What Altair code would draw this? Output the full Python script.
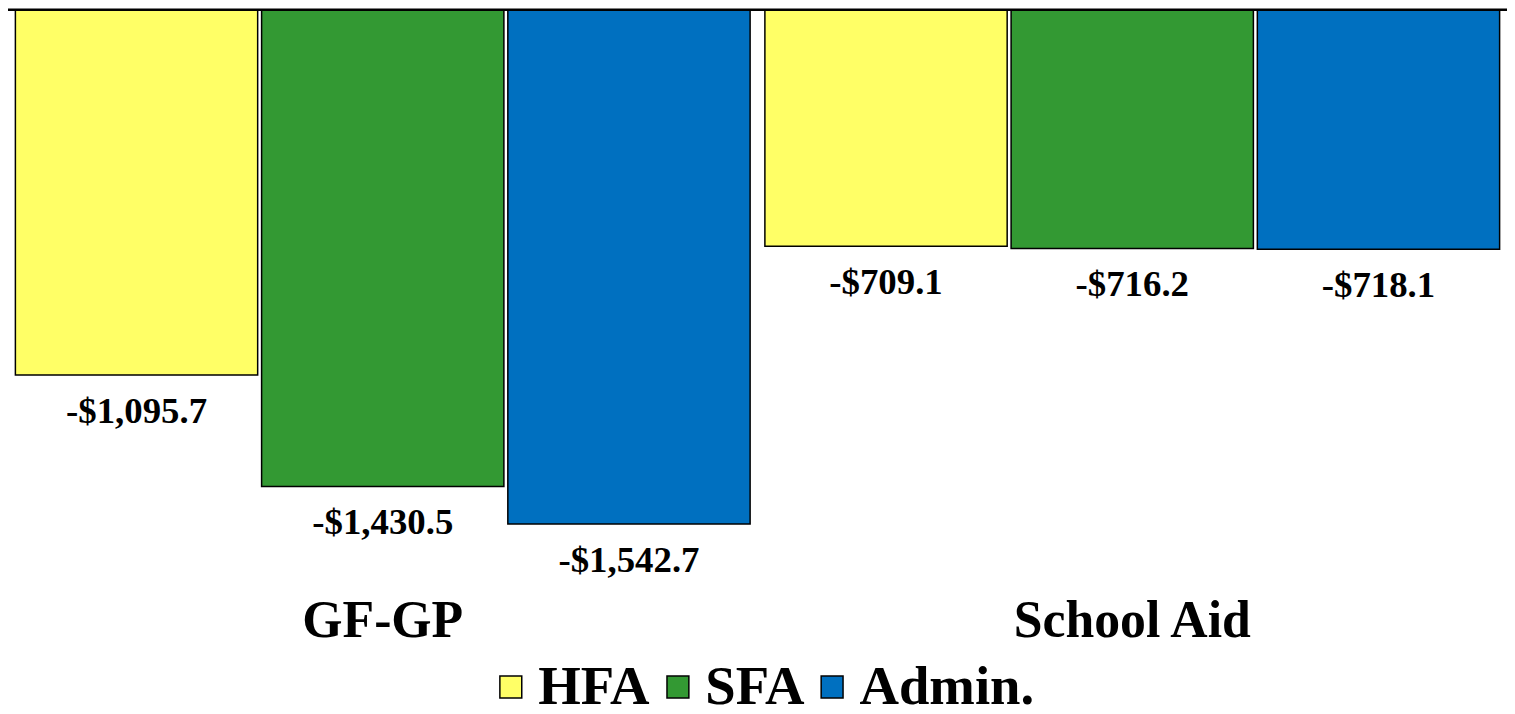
import altair as alt
import pandas as pd

categories = ["GF-GP", "School Aid"]
series = ["HFA", "SFA", "Admin."]
hfa = [-1095.7, -709.1]
sfa = [-1430.5, -716.2]
admin = [-1542.7, -718.1]
colors = ["#FFFF66", "#339933", "#0070C0"]

rows = []
for s, vals in zip(series, [hfa, sfa, admin]):
    for c, v in zip(categories, vals):
        rows.append({"group": c, "series": s, "value": v})
df = pd.DataFrame(rows)

FONT = "Liberation Serif"

x_enc = alt.X("group:N", sort=categories,
              scale=alt.Scale(paddingInner=0, paddingOuter=0),
              axis=alt.Axis(title=None, orient="bottom", domain=False, ticks=False,
                            labelFont=FONT, labelFontWeight="bold", labelFontSize=52,
                            labelColor="black", labelPadding=9, labelAngle=0,
                            labelLimit=600))
xo_enc = alt.XOffset("series:N", sort=series,
                     scale=alt.Scale(paddingInner=0.016, paddingOuter=0.03))
y_enc = alt.Y("value:Q", stack=None,
              scale=alt.Scale(domain=[-1731, 0], nice=False, zero=True),
              axis=None)

base = alt.Chart(df)

bars = base.mark_bar(stroke="black", strokeWidth=1.5).encode(
    x=x_enc, xOffset=xo_enc, y=y_enc,
    color=alt.Color("series:N", sort=series,
                    scale=alt.Scale(domain=series, range=colors),
                    legend=alt.Legend(title=None, orient="none", direction="horizontal",
                                      legendX=478, legendY=653,
                                      symbolType="square", symbolSize=484,
                                      symbolStrokeColor="black", symbolStrokeWidth=1.5,
                                      symbolOpacity=1,
                                      labelFont=FONT, labelFontWeight="bold",
                                      labelFontSize=55, labelColor="black",
                                      labelOffset=0, columnPadding=0,
                                      labelLimit=400)),
)

labels = base.transform_calculate(
    label="'-$' + format(abs(datum.value), ',.1f')"
).mark_text(font=FONT, fontWeight="bold", fontSize=37, color="black",
            baseline="alphabetic", dy=48).encode(
    x=x_enc, xOffset=xo_enc, y=y_enc, text="label:N"
)

top_line = alt.Chart(pd.DataFrame({"z": [0]})).mark_rule(color="black", strokeWidth=2.5).encode(
    y=alt.datum(0)
)

chart = alt.layer(bars, labels, top_line).properties(
    width=1507, height=580,
    autosize=alt.AutoSizeParams(type="none"),
    padding={"left": 0, "top": 0, "right": 0, "bottom": 118},
).configure(background="white").configure_view(strokeWidth=0, stroke=None)

chart.save("out.html", embed_options={"renderer": "svg", "actions": False})
